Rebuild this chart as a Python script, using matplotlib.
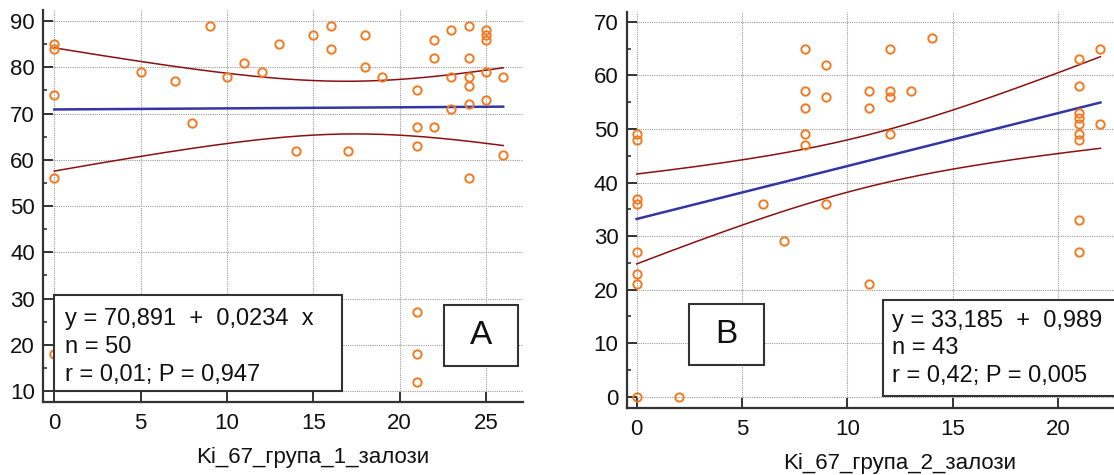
import numpy as np
import matplotlib.pyplot as plt
from matplotlib.patches import Rectangle
from matplotlib.ticker import MultipleLocator

plt.rcParams['font.family'] = ['Liberation Sans', 'DejaVu Sans']

# Group 1 (panel A)
x_a = [0, 0, 0, 0, 0, 5, 7, 8, 9, 10, 11, 12, 13, 14, 15, 16, 16, 17, 18, 18, 19,
       21, 21, 21, 21, 21, 21, 22, 22, 22, 23, 23, 23, 24, 24, 24, 24, 24, 24,
       25, 25, 25, 25, 25, 26, 26]
y_a = [85, 84, 74, 56, 18, 79, 77, 68, 89, 78, 81, 79, 85, 62, 87, 89, 84, 62, 87, 80, 78,
       75, 67, 63, 27, 18, 12, 86, 82, 67, 88, 78, 71, 89, 82, 78, 76, 72, 56,
       88, 87, 86, 79, 73, 78, 61]
intercept_a, slope_a = 70.891, 0.0234
stats_a = ["y = 70,891  +  0,0234  x", "n = 50", "r = 0,01; P = 0,947"]
xlabel_a = "Ki_67_група_1_залози"

# Group 2 (panel B)
x_b = [0, 0, 0, 0, 0, 0, 0, 0, 2, 6, 7, 8, 8, 8, 8, 8, 9, 9, 9, 11, 11, 11,
       12, 12, 12, 12, 13, 14, 21, 21, 21, 21, 21, 21, 21, 21, 21, 22, 22]
y_b = [49, 48, 37, 36, 27, 23, 21, 0, 0, 36, 29, 65, 57, 54, 49, 47, 62, 56, 36, 57, 54, 21,
       65, 57, 56, 49, 57, 67, 63, 58, 53, 52, 51, 49, 48, 33, 27, 65, 51]
intercept_b, slope_b = 33.185, 0.989
stats_b = ["y = 33,185  +  0,989  x", "n = 43", "r = 0,42; P = 0,005"]
xlabel_b = "Ki_67_група_2_залози"

T_CRIT = 2.01  # t(0.975) for ~45 df

ORANGE = '#f27a22'
BLUE = '#3535a5'
DARKRED = '#8b1010'
EDGE = '#333333'


def drawPanel(ax, x, y, b0, b1, stats, letter, stats_box, letter_box, text_x, baselines):
    x = np.array(x, float)
    y = np.array(y, float)
    n = len(x)

    # regression line and 95% confidence band of the mean
    xs = np.linspace(0, x.max(), 200)
    fit = b0 + b1 * xs
    resid = y - (b0 + b1 * x)
    s = np.sqrt(np.sum(resid ** 2) / (n - 2))
    sxx = np.sum((x - x.mean()) ** 2)
    half = T_CRIT * s * np.sqrt(1 / n + (xs - x.mean()) ** 2 / sxx)

    ax.plot(xs, fit, color=BLUE, lw=1.8, zorder=3)
    ax.plot(xs, fit + half, color=DARKRED, lw=1.1, zorder=3)
    ax.plot(xs, fit - half, color=DARKRED, lw=1.1, zorder=3)
    ax.plot(x, y, 'o', mfc='none', mec=ORANGE, mew=1.4, ms=6, zorder=4)

    ax.grid(True, which='major', color='#9a9a9a', ls=(0, (1, 1)), lw=0.8, zorder=0)
    for side in ['top', 'right']:
        ax.spines[side].set_visible(False)
    for side in ['left', 'bottom']:
        ax.spines[side].set_color(EDGE)
        ax.spines[side].set_linewidth(1.6)
    ax.xaxis.set_major_locator(MultipleLocator(5))
    ax.yaxis.set_major_locator(MultipleLocator(10))
    ax.yaxis.set_minor_locator(MultipleLocator(5))
    ax.tick_params(axis='both', which='major', direction='in', length=7, width=1.4,
                   color=EDGE, labelsize=16, labelcolor='#111111')
    ax.tick_params(axis='y', which='major', pad=6)
    ax.tick_params(axis='x', which='major', pad=8)
    ax.tick_params(axis='y', which='minor', direction='in', length=3, width=1.2, color=EDGE)

    # statistics box
    x0, y0, x1, y1 = stats_box
    ax.add_patch(Rectangle((x0, y0), x1 - x0, y1 - y0, transform=ax.transAxes,
                           facecolor='white', edgecolor=EDGE, lw=1.5, zorder=5))
    for line, yb in zip(stats, baselines):
        ax.text(text_x, yb, line, transform=ax.transAxes, fontsize=17,
                va='baseline', ha='left', color='#111111', zorder=6)

    # panel letter box
    x0, y0, x1, y1 = letter_box
    ax.add_patch(Rectangle((x0, y0), x1 - x0, y1 - y0, transform=ax.transAxes,
                           facecolor='white', edgecolor=EDGE, lw=1.5, zorder=5))
    ax.text((x0 + x1) / 2, (y0 + y1) / 2, letter, transform=ax.transAxes, fontsize=24,
            ha='center', va='center', color='#111111', zorder=6)


fig = plt.figure(figsize=(11.14, 4.75), dpi=100)

axA = fig.add_axes([0.03887, 0.15432, 0.43034, 0.82463])
axA.set_xlim(-0.64, 27.13)
axA.set_ylim(7.69, 92.4)
drawPanel(axA, x_a, y_a, intercept_a, slope_a, stats_a, 'A',
          (0.0232, 0.0273, 0.6231, 0.2724), (0.8358, 0.0911, 0.9894, 0.2469),
          0.0461, [0.1958, 0.1243, 0.0528])

axB = fig.add_axes([0.56257, 0.14042, 0.44417, 0.83495])
axB.set_xlim(-0.47, 23.0)
axB.set_ylim(-2.17, 71.9)
drawPanel(axB, x_b, y_b, intercept_b, slope_b, stats_b, 'B',
          (0.5186, 0.031, 1.1, 0.2731), (0.1259, 0.1092, 0.2775, 0.2631),
          0.5356, [0.2057, 0.1369, 0.0671])

fig.text(313 / 1114, 1 - 457 / 475, xlabel_a, fontsize=16, ha='center', va='center', color='#111111')
fig.text(900 / 1114, 1 - 464 / 475, xlabel_b, fontsize=16, ha='center', va='center', color='#111111')

fig.savefig('out.png', dpi=100)
